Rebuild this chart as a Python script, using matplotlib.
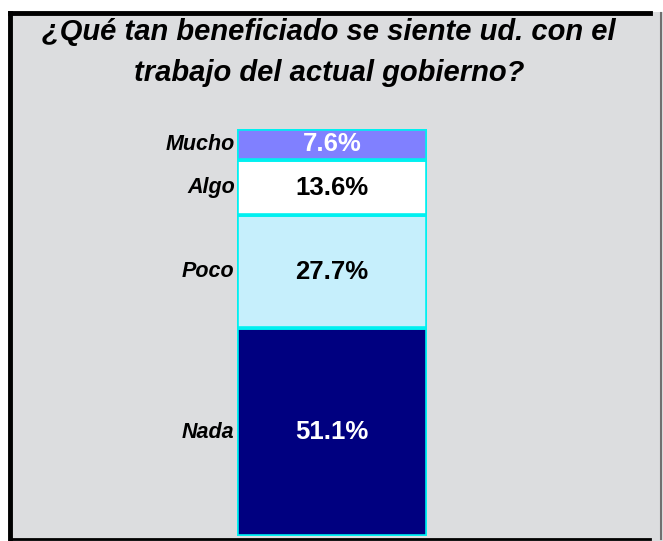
import matplotlib.pyplot as plt
from matplotlib.patches import Rectangle
from matplotlib.lines import Line2D

plt.rcParams['font.family'] = ['Liberation Sans', 'DejaVu Sans']

# stacked from bottom to top
categories = ['Nada', 'Poco', 'Algo', 'Mucho']
values = [51.1, 27.7, 13.6, 7.6]
colors = ['#000080', '#C6EFFC', '#FFFFFF', '#8080FF']
text_colors = ['white', 'black', 'black', 'white']

W, H = 663, 541
fig = plt.figure(figsize=(W / 100, H / 100), dpi=100, facecolor='white')

# grey panel with dark frame
fig.patches.append(Rectangle((8 / W, 0), 1 - 8 / W, 1 - 12 / H, transform=fig.transFigure,
                             facecolor='#DCDDDF', edgecolor='none', zorder=0))
frame = dict(transform=fig.transFigure, color='black', linewidth=3.5)
fig.lines.append(Line2D([10 / W, 650 / W], [1 - 13 / H, 1 - 13 / H], **frame))
fig.lines.append(Line2D([10 / W, 10 / W], [1 - 13 / H, 2 / H], **frame))
fig.lines.append(Line2D([10 / W, 650 / W], [2 / H, 2 / H], transform=fig.transFigure,
                        color='black', linewidth=2))
fig.lines.append(Line2D([661 / W, 661 / W], [1 - 13 / H, 2 / H], transform=fig.transFigure,
                        color='#707070', linewidth=1.5))

fig.text(329 / W, 1 - 40 / H, '¿Qué tan beneficiado se siente ud. con el',
         ha='center', va='baseline', fontsize=21, fontweight='bold', fontstyle='italic')
fig.text(329 / W, 1 - 81 / H, 'trabajo del actual gobierno?',
         ha='center', va='baseline', fontsize=21, fontweight='bold', fontstyle='italic')

ax = fig.add_axes([237 / W, 1 - 536 / H, 190 / W, (536 - 129) / H])
ax.set_facecolor('none')
ax.set_zorder(5)

bottom = 0
for cat, val, col, tc in zip(categories, values, colors, text_colors):
    ax.bar(0, val, width=1, bottom=bottom, color=col, edgecolor='#00F0F0', linewidth=2.6)
    mid = bottom + val / 2
    ax.text(0, mid, f'{val:.1f}%', ha='center', va='center', color=tc,
            fontsize=18.5, fontweight='bold')
    ax.text(-0.512, mid, cat, ha='right', va='center', color='black',
            fontsize=15.5, fontweight='bold', fontstyle='italic')
    bottom += val

ax.set_xlim(-0.5, 0.5)
ax.set_ylim(0, sum(values))
ax.axis('off')

fig.savefig('out.png', dpi=100, facecolor='white')
